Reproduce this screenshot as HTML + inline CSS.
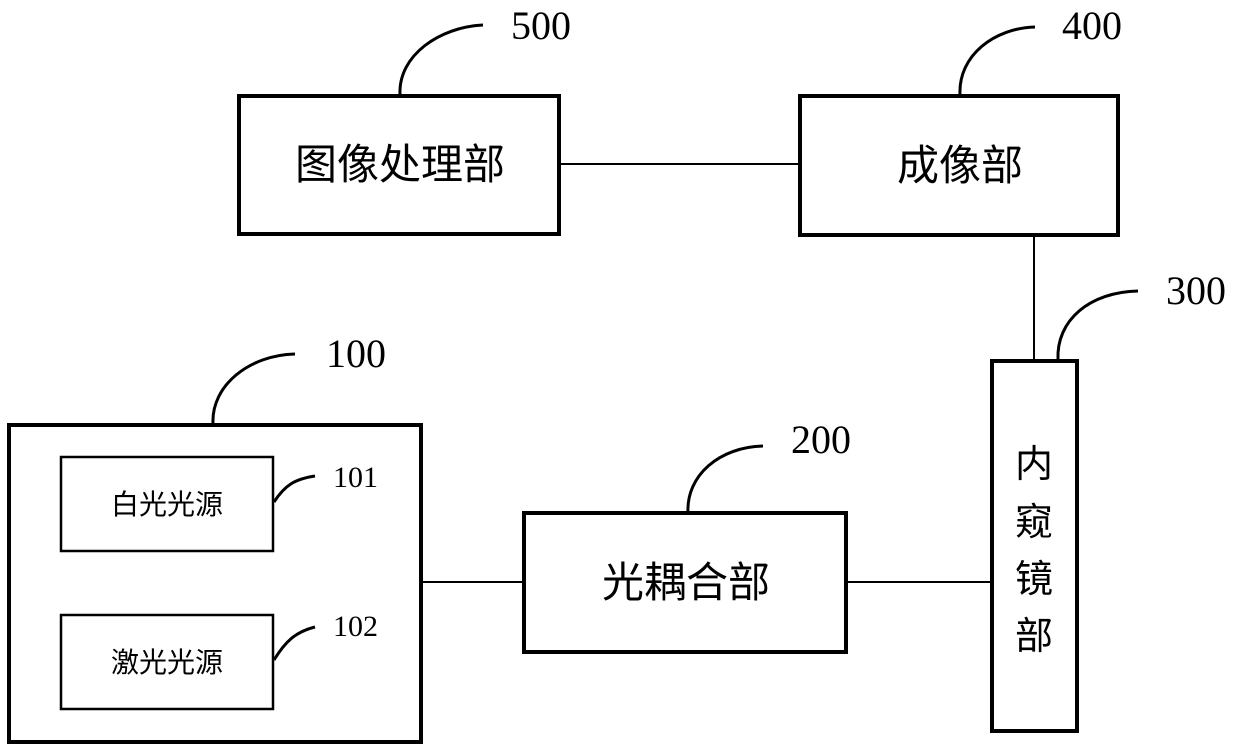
<!DOCTYPE html>
<html><head><meta charset="utf-8"><style>
html,body{margin:0;padding:0;background:#fff;}
svg{display:block;}
.cn{font-family:"Liberation Sans","Noto Sans CJK SC",sans-serif;fill:#000;}
.num{font-family:"Liberation Serif",serif;fill:#000;}
</style></head><body>
<svg width="1239" height="750" viewBox="0 0 1239 750" xmlns="http://www.w3.org/2000/svg">
<g fill="none" stroke="#000">
<rect x="239" y="96" width="320" height="138" stroke-width="4"/>
<rect x="800" y="96" width="318" height="139" stroke-width="4"/>
<rect x="992" y="361" width="85" height="370" stroke-width="4"/>
<rect x="524" y="513" width="322" height="139" stroke-width="4"/>
<rect x="9" y="425" width="412" height="317" stroke-width="4"/>
<rect x="61" y="457" width="212" height="94" stroke-width="2.5"/>
<rect x="61" y="615" width="212" height="94" stroke-width="2.5"/>
<g stroke-width="2">
<line x1="561" y1="164" x2="800" y2="164"/>
<line x1="1034" y1="235" x2="1034" y2="361"/>
<line x1="421" y1="582" x2="524" y2="582"/>
<line x1="846" y1="582" x2="992" y2="582"/>
</g>
<g stroke-width="3">
<path d="M400 95 C398 55 440 27 483 25"/>
<path d="M960 95 C958 55 995 28 1035 27"/>
<path d="M1058 360 C1056 320 1090 292 1138 291"/>
<path d="M213 424 C211 385 250 355 295 354"/>
<path d="M688 513 C686 475 720 447 763 446"/>
<path d="M274 502 C285 485 295 479 315 476"/>
<path d="M274 660 C285 642 295 632 315 627"/>
</g>
</g>
<g class="cn" text-anchor="middle">
<text x="400" y="179" font-size="42">图像处理部</text>
<text x="960" y="180" font-size="42">成像部</text>
<text x="686" y="597" font-size="42">光耦合部</text>
<text x="167" y="514" font-size="28">白光光源</text>
<text x="167" y="672" font-size="28">激光光源</text>
<text x="1034" y="477" font-size="38">内</text>
<text x="1034" y="535" font-size="38">窥</text>
<text x="1034" y="592" font-size="38">镜</text>
<text x="1034" y="649" font-size="38">部</text>
</g>
<g class="num" font-size="40">
<text x="511" y="39">500</text>
<text x="1062" y="39">400</text>
<text x="1166" y="304">300</text>
<text x="326" y="367">100</text>
<text x="791" y="453">200</text>
<text x="333" y="487" font-size="30">101</text>
<text x="333" y="636" font-size="30">102</text>
</g>
</svg>
</body></html>
